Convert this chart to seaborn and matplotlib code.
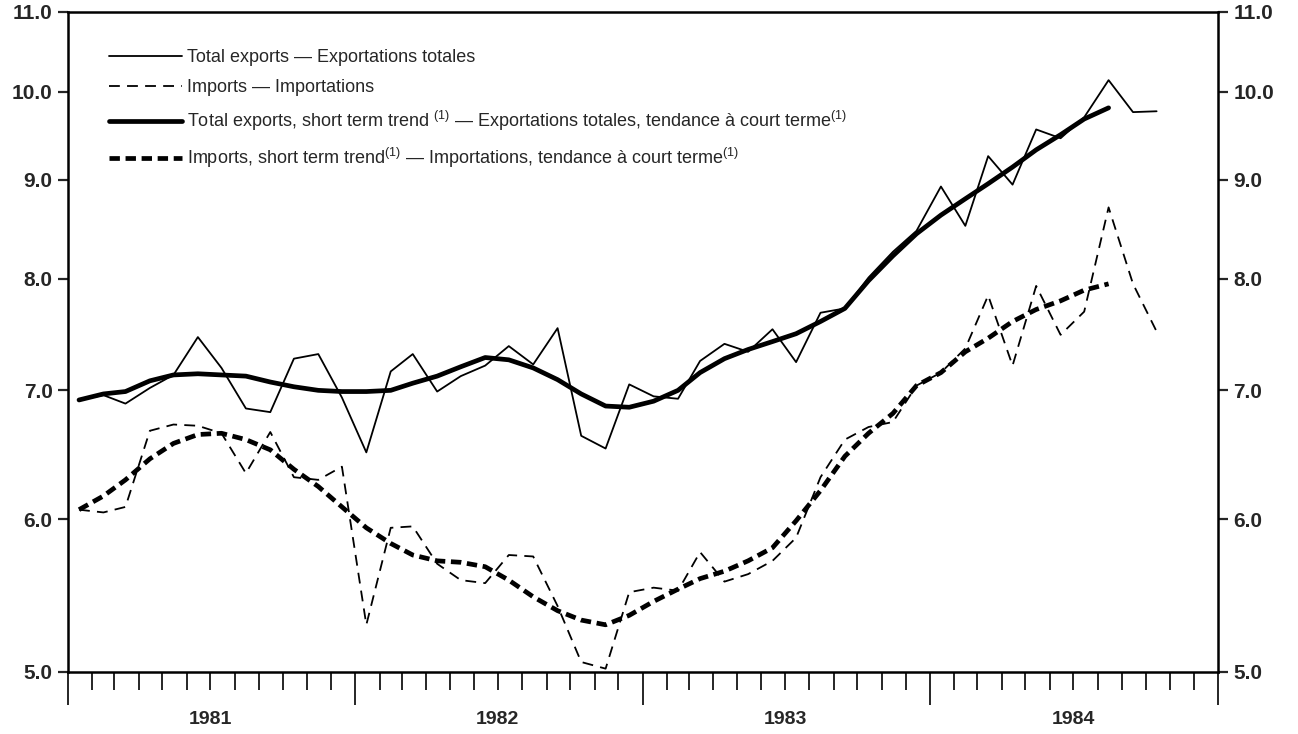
import matplotlib
matplotlib.use("Agg")
import matplotlib.pyplot as plt
import matplotlib.dates as mdates
import matplotlib.ticker as mticker
import pandas as pd
import seaborn as sns

# Monthly data, Jan 1981 - Oct 1984 (billions of dollars, ratio scale)
exports = [6.92, 6.96, 6.89, 7.02, 7.13, 7.46, 7.19, 6.85, 6.82, 7.27, 7.31, 6.94,
           6.50, 7.16, 7.31, 6.99, 7.12, 7.21, 7.38, 7.22, 7.54, 6.63, 6.53, 7.05,
           6.95, 6.93, 7.25, 7.40, 7.33, 7.53, 7.24, 7.68, 7.72, 8.01, 8.26, 8.47,
           8.93, 8.52, 9.26, 8.95, 9.56, 9.46, 9.70, 10.14, 9.76, 9.77]
imports = [6.07, 6.05, 6.09, 6.67, 6.72, 6.71, 6.65, 6.34, 6.66, 6.31, 6.29, 6.39,
           5.29, 5.94, 5.95, 5.69, 5.58, 5.56, 5.75, 5.74, 5.41, 5.06, 5.02, 5.50,
           5.53, 5.51, 5.77, 5.57, 5.62, 5.71, 5.87, 6.31, 6.60, 6.70, 6.74, 7.04,
           7.15, 7.36, 7.84, 7.21, 7.93, 7.48, 7.69, 8.71, 7.95, 7.51]
# short term trends stop at Aug 1984
exports_trend = [6.92, 6.97, 6.99, 7.08, 7.13, 7.14, 7.13, 7.12, 7.07, 7.03, 7.00, 6.99,
                 6.99, 7.00, 7.06, 7.12, 7.20, 7.28, 7.26, 7.19, 7.09, 6.97, 6.87, 6.86,
                 6.91, 7.00, 7.15, 7.27, 7.35, 7.42, 7.49, 7.60, 7.72, 7.98, 8.22, 8.44,
                 8.63, 8.80, 8.96, 9.14, 9.33, 9.50, 9.68, 9.81]
imports_trend = [6.07, 6.17, 6.29, 6.45, 6.57, 6.64, 6.65, 6.60, 6.52, 6.37, 6.24, 6.09,
                 5.94, 5.83, 5.75, 5.71, 5.70, 5.67, 5.58, 5.47, 5.38, 5.32, 5.29, 5.35,
                 5.44, 5.52, 5.59, 5.64, 5.71, 5.80, 5.99, 6.21, 6.47, 6.65, 6.81, 7.04,
                 7.15, 7.33, 7.45, 7.60, 7.71, 7.79, 7.89, 7.95]

years = ["1981", "1982", "1983", "1984"]
y_ticks = [5.0, 6.0, 7.0, 8.0, 9.0, 10.0, 11.0]

labels = [
    "Total exports — Exportations totales",
    "Imports — Importations",
    r"Total exports, short term trend $^{(1)}$ — Exportations totales, tendance à court terme$^{(1)}$",
    r"Imports, short term trend$^{(1)}$ — Importations, tendance à court terme$^{(1)}$",
]

months = pd.date_range("1981-01-01", periods=len(exports), freq="MS") + pd.Timedelta(days=14)
raw = pd.DataFrame({"month": months, "exports": exports, "imports": imports})
trend = pd.DataFrame({"month": months[:len(exports_trend)],
                      "exports": exports_trend, "imports": imports_trend})

sns.set_theme(style="ticks")
plt.rcParams["font.family"] = ["Liberation Sans", "DejaVu Sans"]
plt.rcParams["mathtext.fontset"] = "custom"
plt.rcParams["mathtext.rm"] = "Liberation Sans"
plt.rcParams["mathtext.it"] = "Liberation Sans:italic"

fig = plt.figure(figsize=(12.98, 7.34), dpi=100)
ax = fig.add_axes([68 / 1298, 62 / 734, 1150 / 1298, 660 / 734])

sns.lineplot(data=raw, x="month", y="exports", ax=ax, color="black", linewidth=1.3,
             label=labels[0])
sns.lineplot(data=raw, x="month", y="imports", ax=ax, color="black", linewidth=1.3,
             linestyle=(0, (6, 4)), label=labels[1])
sns.lineplot(data=trend, x="month", y="exports", ax=ax, color="black", linewidth=3.4,
             label=labels[2])
sns.lineplot(data=trend, x="month", y="imports", ax=ax, color="black", linewidth=3.4,
             linestyle=(0, (2.2, 1.2)), label=labels[3])

# y axis: ratio scale, labelled both sides
ax.set_yscale("log")
ax.set_ylim(5.0, 11.0)
ax.yaxis.set_major_locator(mticker.FixedLocator(y_ticks))
ax.yaxis.set_minor_locator(mticker.NullLocator())
ax.yaxis.set_major_formatter(mticker.FormatStrFormatter("%.1f"))
ax.tick_params(axis="y", which="major", direction="out", length=7, width=1.6,
               labelsize=15, left=True, right=True, labelleft=True, labelright=True,
               pad=4)
for t in ax.get_yticklabels():
    t.set_fontweight("bold")

# x axis: monthly ticks, long ticks at year boundaries
ax.set_xlim(mdates.date2num(pd.Timestamp("1981-01-01")),
            mdates.date2num(pd.Timestamp("1985-01-01")))
ax.xaxis.set_major_locator(mdates.YearLocator())
ax.xaxis.set_minor_locator(mdates.MonthLocator())
ax.xaxis.set_major_formatter(mticker.NullFormatter())
ax.tick_params(axis="x", which="major", direction="out", length=24, width=1.4)
ax.tick_params(axis="x", which="minor", direction="out", length=13, width=1.4)
for i, yr in enumerate(years):
    ax.text(mdates.date2num(pd.Timestamp(f"{yr}-07-01")), -0.072, yr,
            transform=ax.get_xaxis_transform(), ha="center", va="center",
            fontsize=14, fontweight="bold")

ax.set_xlabel("")
ax.set_ylabel("")
for side in ["left", "right", "top", "bottom"]:
    ax.spines[side].set_visible(True)
    ax.spines[side].set_linewidth(1.8)
    ax.spines[side].set_color("black")

ax.legend(loc="upper left", bbox_to_anchor=(0.036, 0.944), frameon=False,
          fontsize=13, handlelength=4.0, handletextpad=0.3, labelspacing=0.72,
          borderpad=0, borderaxespad=0)

fig.savefig("out.png", dpi=100, facecolor="white")
